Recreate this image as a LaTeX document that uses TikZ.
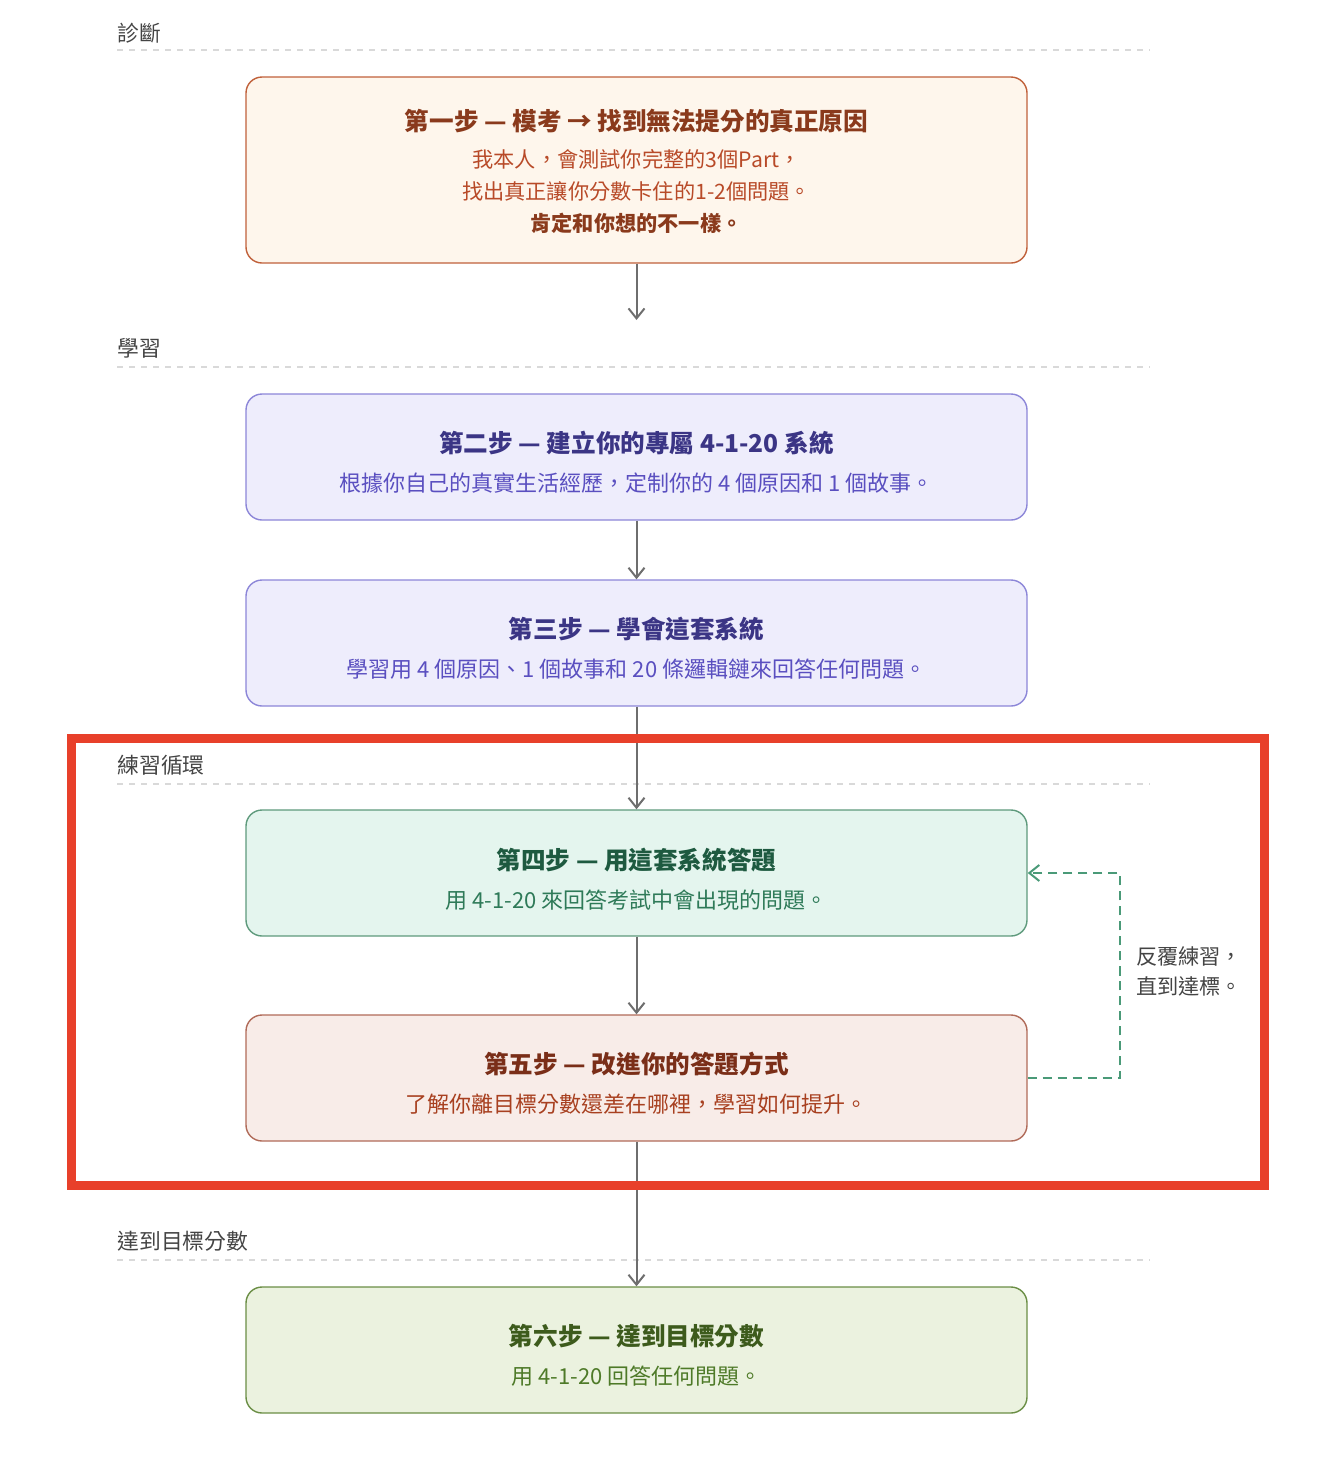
\documentclass[tikz,border=0pt]{standalone}
\usepackage{fontspec}
\setmainfont{Noto Sans CJK TC}
\usetikzlibrary{arrows.meta}

\definecolor{secgray}{HTML}{444444}
\definecolor{seclinegray}{HTML}{D9D9D9}
\definecolor{arrowgray}{HTML}{6E6E6E}
\definecolor{framered}{HTML}{E8402A}
\definecolor{loopgreen}{HTML}{4A9A78}
\definecolor{onefill}{HTML}{FEF6EC}
\definecolor{oneline}{HTML}{C0603A}
\definecolor{onetitle}{HTML}{8A3A1C}
\definecolor{onesub}{HTML}{B84A28}
\definecolor{twofill}{HTML}{EEEDFC}
\definecolor{twoline}{HTML}{8C86D8}
\definecolor{twotitle}{HTML}{3B3585}
\definecolor{twosub}{HTML}{5A4FC0}
\definecolor{fourfill}{HTML}{E4F5EE}
\definecolor{fourline}{HTML}{5E9A7C}
\definecolor{fourtitle}{HTML}{1E5A40}
\definecolor{foursub}{HTML}{2E7A58}
\definecolor{fivefill}{HTML}{F8ECE8}
\definecolor{fiveline}{HTML}{B06A58}
\definecolor{fivetitle}{HTML}{7A2E18}
\definecolor{fivesub}{HTML}{A84020}
\definecolor{sixfill}{HTML}{EBF2DF}
\definecolor{sixline}{HTML}{6A8E45}
\definecolor{sixtitle}{HTML}{3D5B1C}
\definecolor{sixsub}{HTML}{4E7A28}

\begin{document}
\begin{tikzpicture}[x=0.5pt,y=-0.5pt,
  stepbox/.style={draw,rounded corners=8pt,line width=0.7pt,minimum width=390.5pt,minimum height=63pt,inner sep=0pt},
  ttl/.style={font=\fontsize{12.3}{15}\selectfont\bfseries},
  sub/.style={font=\fontsize{11}{13}\selectfont},
  sect/.style={anchor=west,inner sep=0pt,text=secgray,font=\fontsize{10.9}{13}\selectfont},
  sectline/.style={draw=seclinegray,line width=0.75pt,dash pattern=on 3pt off 3pt},
  flow/.style={draw=arrowgray,line width=1pt,-{Straight Barb[length=5pt,width=8pt]}},
  loopback/.style={draw=loopgreen,line width=1pt,dash pattern=on 4.5pt off 3pt,-{Straight Barb[length=5pt,width=8pt]}}]
  \useasboundingbox (0,0) rectangle (1322,1484);

  \node[sect] (sec1) at (117,33) {診斷};
  \draw[sectline] (117,50) -- (1150,50);
  \node[stepbox,draw=oneline,fill=onefill,minimum height=93pt] (s1) at (636.5,170) {};
  \node[ttl,text=onetitle] (s1t) at (636.5,121) {第一步 — 模考 → 找到無法提分的真正原因};
  \node[sub,text=onesub,align=center,font=\fontsize{10.6}{16}\selectfont] (s1s) at (636.5,192)
    {我本人，會測試你完整的3個Part，\\找出真正讓你分數卡住的1-2個問題。\\{\bfseries\color{onetitle}肯定和你想的不一樣。}};
  \coordinate (a1end) at (636.5,320);

  \node[sect] (sec2) at (117,348) {學習};
  \draw[sectline] (117,367) -- (1150,367);
  \node[stepbox,draw=twoline,fill=twofill] (s2) at (636.5,457) {};
  \node[ttl,text=twotitle] (s2t) at (636.5,443) {第二步 — 建立你的專屬 4-1-20 系統};
  \node[sub,text=twosub] (s2s) at (636.5,483) {根據你自己的真實生活經歷，定制你的 4 個原因和 1 個故事。};

  \node[stepbox,draw=twoline,fill=twofill] (s3) at (636.5,643) {};
  \node[ttl,text=twotitle] (s3t) at (636.5,629) {第三步 — 學會這套系統};
  \node[sub,text=twosub] (s3s) at (636.5,669) {學習用 4 個原因、1 個故事和 20 條邏輯鏈來回答任何問題。};

  \node[sect] (sec3) at (117,765) {練習循環};
  \draw[sectline] (117,784) -- (1150,784);
  \node[stepbox,draw=fourline,fill=fourfill] (s4) at (636.5,873) {};
  \node[ttl,text=fourtitle] (s4t) at (636.5,860) {第四步 — 用這套系統答題};
  \node[sub,text=foursub] (s4s) at (636.5,900) {用 4-1-20 來回答考試中會出現的問題。};

  \node[stepbox,draw=fiveline,fill=fivefill] (s5) at (636.5,1078) {};
  \node[ttl,text=fivetitle] (s5t) at (636.5,1064) {第五步 — 改進你的答題方式};
  \node[sub,text=fivesub] (s5s) at (636.5,1104) {了解你離目標分數還差在哪裡，學習如何提升。};

  \node[sect] (sec4) at (117,1241) {達到目標分數};
  \draw[sectline] (117,1260) -- (1150,1260);
  \node[stepbox,draw=sixline,fill=sixfill] (s6) at (636.5,1350) {};
  \node[ttl,text=sixtitle] (s6t) at (636.5,1336) {第六步 — 達到目標分數};
  \node[sub,text=sixsub] (s6s) at (636.5,1376) {用 4-1-20 回答任何問題。};

  \draw[flow] (s1) -- (a1end);
  \draw[flow] (s2) -- (s3);
  \draw[flow] (s3) -- (s4);
  \draw[flow] (s4) -- (s5);
  \draw[flow] (s5) -- (s6);

  \coordinate (loopx) at (1120,975);
  \draw[loopback] (s5.east) -| (loopx) |- (s4.east);
  \node[anchor=west,align=left,text=secgray,font=\fontsize{10.6}{15}\selectfont] (looplbl) at (1129,971)
    {反覆練習，\\直到達標。};

  \draw[draw=framered,line width=4.5pt] (71,738) rectangle (1264,1185);
\end{tikzpicture}
\end{document}
